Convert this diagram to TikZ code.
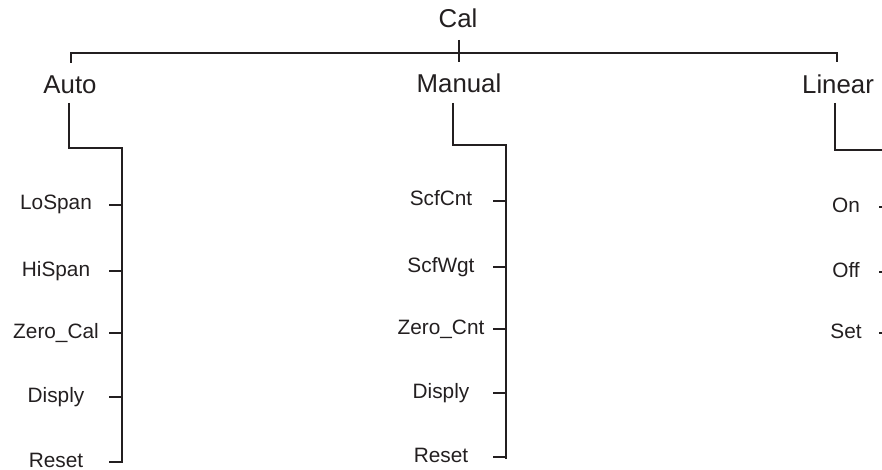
\documentclass[tikz,border=0pt]{standalone}
\usepackage{fontspec}
\setmainfont{Liberation Sans}
\definecolor{ink}{HTML}{231F20}
\begin{document}
\begin{tikzpicture}[x=1pt,y=-1pt,
  wire/.style={draw=ink,line width=2.5pt,line join=miter},
  head/.style={text=ink,font=\fontsize{25.8}{30}\selectfont,anchor=base,inner sep=0pt},
  leaf/.style={text=ink,font=\fontsize{20.8}{24}\selectfont,anchor=base,inner sep=0pt}]
\useasboundingbox (0,0) rectangle (882,470);
\clip (0,0) rectangle (882,470);
% headings
\node[head] (cal) at (458,28) {Cal};
\node[head] (auto) at (70,94) {Auto};
\node[head] (manual) at (459,93) {Manual};
\node[head] (linear) at (838,94) {Linear};
% Auto leaves
\node[leaf] (lospan) at (56,210) {LoSpan};
\node[leaf] (hispan) at (56,276) {HiSpan};
\node[leaf] (zerocal) at (56,338) {Zero\_Cal};
\node[leaf] (displyA) at (56,402) {Disply};
\node[leaf] (resetA) at (56,467) {Reset};
% Manual leaves
\node[leaf] (scfcnt) at (441,206) {ScfCnt};
\node[leaf] (scfwgt) at (441,272) {ScfWgt};
\node[leaf] (zerocnt) at (441,334) {Zero\_Cnt};
\node[leaf] (displyM) at (441,398) {Disply};
\node[leaf] (resetM) at (441,462) {Reset};
% Linear leaves
\node[leaf] (on) at (846,212) {On};
\node[leaf] (off) at (846,277) {Off};
\node[leaf] (set) at (846,338) {Set};
% connection points
\coordinate (calStem) at (459,40);
\coordinate (barMid) at (459,62);
\coordinate (autoTop) at (71,63);
\coordinate (linTop) at (837,62);
\coordinate (autoOut) at (69,103);
\coordinate (manOut) at (453,103);
\coordinate (linOut) at (835,103);
% top bar
\draw[wire] (calStem) -- (barMid);
\draw[wire] (autoTop) |- (linTop |- 0,53) -- (linTop);
% Auto branch
\draw[wire] (autoOut) -- (69,148) -- (122,148) -- (122,463);
\foreach \n/\y in {lospan/205,hispan/271,zerocal/333,displyA/397,resetA/462}
  \draw[wire] (109,\y) coordinate (\n-t) -- (122,\y);
% Manual branch
\draw[wire] (manOut) -- (453,145) -- (506,145) -- (506,459);
\foreach \n/\y in {scfcnt/201,scfwgt/267,zerocnt/329,displyM/393,resetM/457}
  \draw[wire] (493,\y) coordinate (\n-t) -- (506,\y);
% Linear branch
\draw[wire] (linOut) -- (835,150) -- (891,150) -- (891,333);
\foreach \n/\y in {on/207,off/272,set/333}
  \draw[wire] (879,\y) coordinate (\n-t) -- (891,\y);
\end{tikzpicture}
\end{document}
